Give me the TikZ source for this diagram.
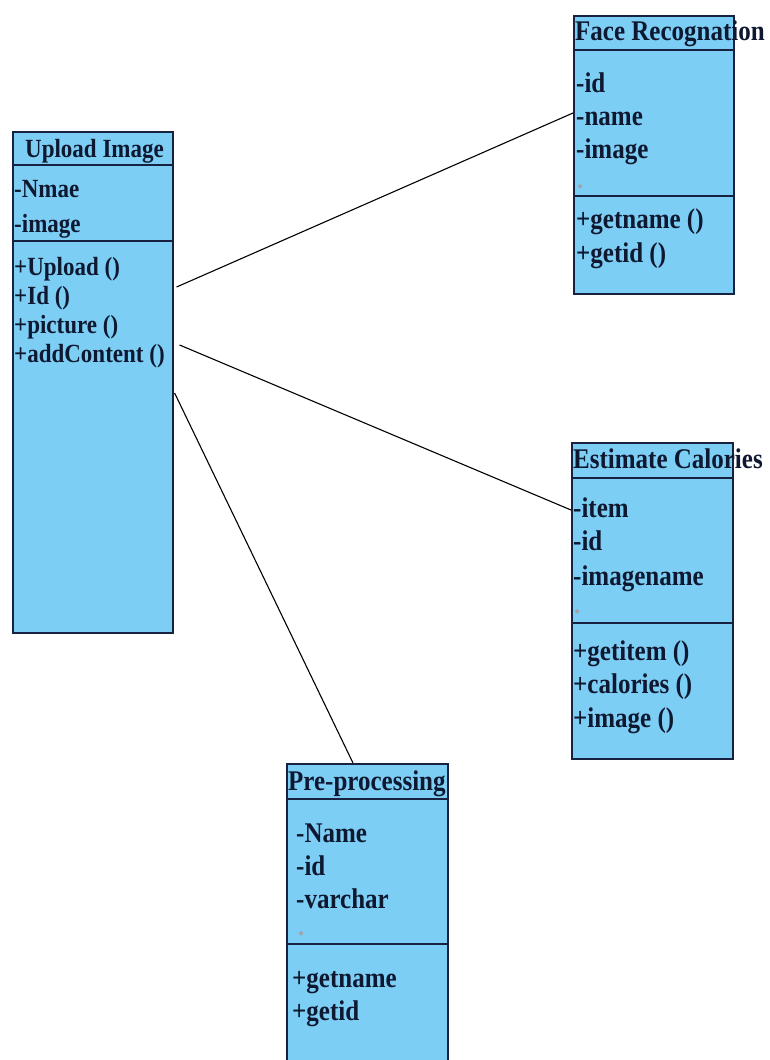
\documentclass[tikz,border=0pt]{standalone}
\usepackage{fontspec}
\usepackage{graphicx}
\newfontfamily\umlfont{Liberation Serif Bold}
\newcommand{\tall}[1]{\scalebox{1}[1.14]{#1}}
\definecolor{boxfill}{RGB}{125,206,245}
\definecolor{boxline}{RGB}{22,34,64}
\definecolor{ink}{RGB}{14,24,48}
\begin{document}
\begin{tikzpicture}[x=1pt,y=-1pt,
  classbox/.style={draw=boxline,line width=1.6pt,fill=boxfill,rectangle,inner sep=0pt,anchor=north west},
  sep/.style={draw=boxline,line width=1.6pt},
  txt/.style={anchor=base west,inner sep=0pt,text=ink,font=\umlfont\fontsize{25}{25}\selectfont},
  smalltxt/.style={txt,font=\umlfont\fontsize{23}{23}\selectfont},
  link/.style={draw=black,line width=1.1pt}]
\useasboundingbox (0,0) rectangle (770,1060);
\clip (0,0) rectangle (770,1060);

% class boxes
\node[classbox,minimum width=160pt,minimum height=501pt] (upload) at (12,131) {};
\node[classbox,minimum width=160pt,minimum height=278pt] (face) at (573,15) {};
\node[classbox,minimum width=161pt,minimum height=316pt] (calories) at (571,442) {};
\node[classbox,minimum width=161pt,minimum height=320pt] (pre) at (286,763) {};

% compartment separators
\draw[sep] ([yshift=-34pt]upload.north west) -- ([yshift=-34pt]upload.north east);
\draw[sep] ([yshift=-110pt]upload.north west) -- ([yshift=-110pt]upload.north east);
\draw[sep] ([yshift=-35pt]face.north west) -- ([yshift=-35pt]face.north east);
\draw[sep] ([yshift=-181pt]face.north west) -- ([yshift=-181pt]face.north east);
\draw[sep] ([yshift=-36pt]calories.north west) -- ([yshift=-36pt]calories.north east);
\draw[sep] ([yshift=-181pt]calories.north west) -- ([yshift=-181pt]calories.north east);
\draw[sep] ([yshift=-36pt]pre.north west) -- ([yshift=-36pt]pre.north east);
\draw[sep] ([yshift=-181pt]pre.north west) -- ([yshift=-181pt]pre.north east);

% Upload Image
\node[smalltxt] (u-title) at (25,157) {\tall{Upload Image}};
\node[smalltxt] (u-a1) at (14,197) {\tall{-Nmae}};
\node[smalltxt] (u-a2) at (14,232) {\tall{-image}};
\node[smalltxt] (u-m1) at (14,275) {\tall{+Upload ()}};
\node[smalltxt] (u-m2) at (14,304) {\tall{+Id ()}};
\node[smalltxt] (u-m3) at (14,333) {\tall{+picture ()}};
\node[smalltxt] (u-m4) at (14,362) {\tall{+addContent ()}};

% Face Recognation
\node[txt] (f-title) at (575,40) {\tall{Face Recognation}};
\node[txt] (f-a1) at (576,92) {\tall{-id}};
\node[txt] (f-a2) at (576,125) {\tall{-name}};
\node[txt] (f-a3) at (576,158) {\tall{-image}};
\node[txt,text=ink!40] (f-a4) at (577,188) {.};
\node[txt] (f-m1) at (576,228) {\tall{+getname ()}};
\node[txt] (f-m2) at (576,262) {\tall{+getid ()}};

% Estimate Calories
\node[txt] (c-title) at (573,468) {\tall{Estimate Calories}};
\node[txt] (c-a1) at (573,517) {\tall{-item}};
\node[txt] (c-a2) at (573,550) {\tall{-id}};
\node[txt] (c-a3) at (573,585) {\tall{-imagename}};
\node[txt,text=ink!40] (c-a4) at (574,613) {.};
\node[txt] (c-m1) at (573,660) {\tall{+getitem ()}};
\node[txt] (c-m2) at (573,693) {\tall{+calories ()}};
\node[txt] (c-m3) at (573,727) {\tall{+image ()}};

% Pre-processing
\node[txt] (p-title) at (288,790) {\tall{Pre-processing}};
\node[txt] (p-a1) at (296,842) {\tall{-Name}};
\node[txt] (p-a2) at (296,875) {\tall{-id}};
\node[txt] (p-a3) at (296,908) {\tall{-varchar}};
\node[txt,text=ink!40] (p-a4) at (298,935) {.};
\node[txt] (p-m1) at (292,987) {\tall{+getname}};
\node[txt] (p-m2) at (292,1020) {\tall{+getid}};

% associations
\coordinate (u-out1) at ([xshift=3pt,yshift=-156pt]upload.north east);
\coordinate (u-out2) at ([xshift=6pt,yshift=-214pt]upload.north east);
\coordinate (u-out3) at ([xshift=1pt,yshift=-262pt]upload.north east);
\coordinate (f-in) at ([yshift=-98pt]face.north west);
\coordinate (c-in) at ([yshift=-68pt]calories.north west);
\coordinate (p-in) at ([xshift=67pt]pre.north west);
\draw[link] (u-out1) -- (f-in);
\draw[link] (u-out2) -- (c-in);
\draw[link] (u-out3) -- (p-in);
\end{tikzpicture}
\end{document}
